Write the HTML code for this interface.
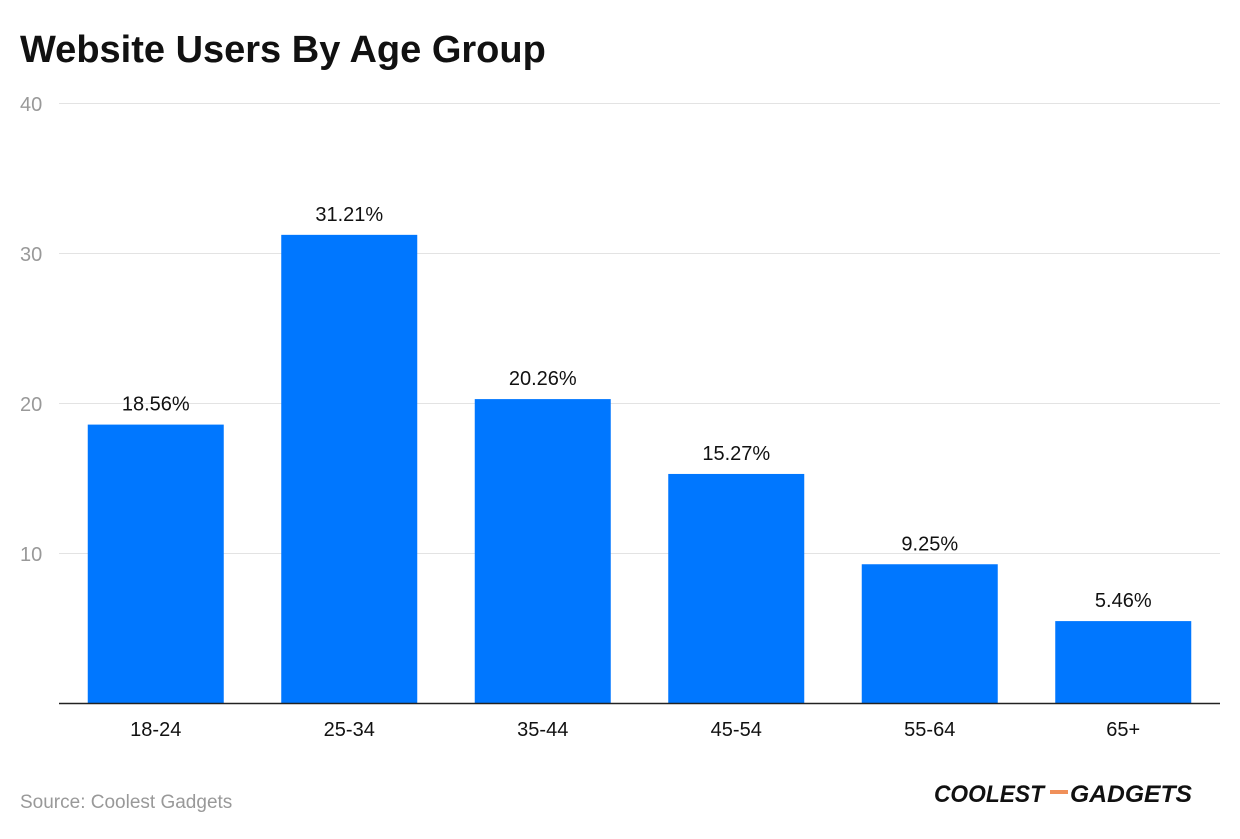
<!DOCTYPE html>
<html><head><meta charset="utf-8"><style>
body{margin:0;background:#fff;width:1240px;height:834px;overflow:hidden;font-family:"Liberation Sans",sans-serif}
</style></head><body>
<svg width="1240" height="834">
<text x="20" y="62" font-size="38" font-weight="bold" fill="#111">Website Users By Age Group</text>
<g id="grid"></g><g id="bars"></g><g id="xlabels"></g>
<line x1="59" x2="1220" y1="703.5" y2="703.5" stroke="#222" stroke-width="1.5"/>
<text x="20" y="808" font-size="19" fill="#999">Source: Coolest Gadgets</text>
<g font-family="Liberation Sans" font-weight="bold" font-style="italic" font-size="24" fill="#111">
<text x="934" y="802" textLength="110" lengthAdjust="spacingAndGlyphs">COOLEST</text>
<rect x="1050" y="790" width="18" height="4" fill="#f0905a"/>
<text x="1070" y="802" textLength="122" lengthAdjust="spacingAndGlyphs">GADGETS</text>
</g>
</svg>
<script>
const categories=["18-24","25-34","35-44","45-54","55-64","65+"];
const values=[18.56,31.21,20.26,15.27,9.25,5.46];
const yTicks=[10,20,30,40];
const NS="http://www.w3.org/2000/svg";
const x0=59,x1=1220,yBase=703,yPerUnit=15,barW=136;
const band=(x1-x0)/categories.length;
const y=v=>yBase-v*yPerUnit;
const cx=i=>x0+band*(i+0.5);
function mk(t,a,p){const e=document.createElementNS(NS,t);for(const k in a)e.setAttribute(k,a[k]);p.appendChild(e);return e;}
const g=document.getElementById('grid');
yTicks.forEach(t=>{
 const l=mk('line',{x1:x0,x2:x1,y1:y(t)+0.5,y2:y(t)+0.5,stroke:'#e3e3e3','stroke-width':1},g);
 
 
 const tx=mk('text',{x:20,y:y(t)+8,'font-size':20,fill:'#999'},g);
 tx.textContent=t;
 
 
});
const b=document.getElementById('bars'),xl=document.getElementById('xlabels');
values.forEach((v,i)=>{
 const r=mk('rect',{x:cx(i)-barW/2,y:y(v),width:barW,height:v*yPerUnit,fill:'#0077ff'},b);
 
 
 const t=mk('text',{x:cx(i),y:y(v)-14,'font-size':20,fill:'#111','text-anchor':'middle'},b);
 t.textContent=v.toFixed(2)+'%';
 
 
 const c=mk('text',{x:cx(i),y:736,'font-size':20,fill:'#111','text-anchor':'middle'},xl);
 c.textContent=categories[i];
 
 
});
</script>
</body></html>
